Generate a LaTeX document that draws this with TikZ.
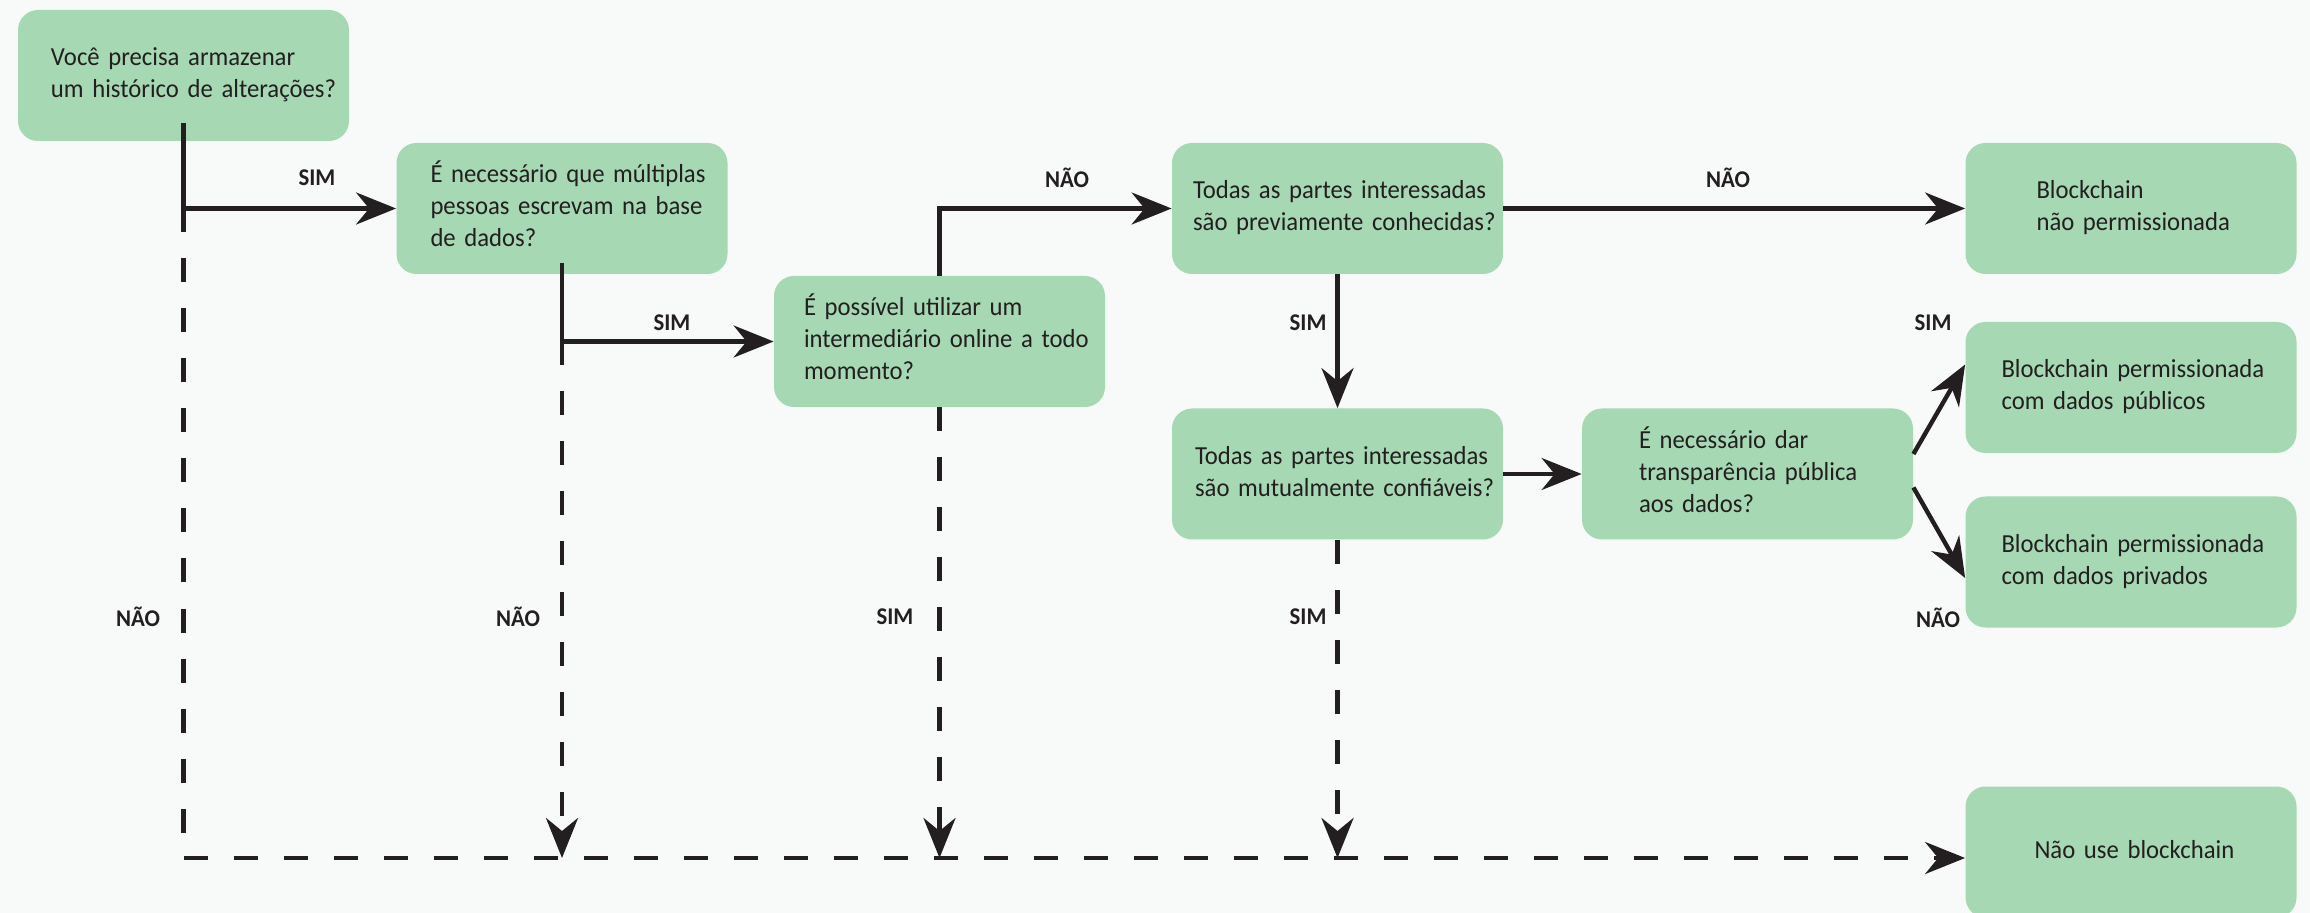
\documentclass[tikz,border=0pt]{standalone}
\usepackage{fontspec}
\setmainfont[FakeStretch=0.95]{Carlito}
\usetikzlibrary{arrows.meta}
\definecolor{boxgreen}{HTML}{A5D8B3}
\definecolor{paper}{HTML}{F8FAF9}
\definecolor{ink}{HTML}{231F20}
\newcommand{\boxtext}[2]{\hspace*{#1}\begin{tabular}{@{}l@{}}#2\end{tabular}}
\tikzset{
  box/.style={fill=boxgreen, rounded corners=10pt, minimum width=165.5pt,
    minimum height=65.5pt, text width=165.5pt, align=left, inner sep=0pt,
    font=\fontsize{13}{16}\selectfont, text=ink},
  lab/.style={font=\fontsize{12}{14}\selectfont\bfseries, text=ink},
  flow/.style={draw=ink, line width=2.2pt, -{Stealth[length=20pt,width=16pt]}},
  dflow/.style={flow, dash pattern=on 12pt off 13pt}
}
\begin{document}
\begin{tikzpicture}[x=0.5pt,y=-0.5pt]
\fill[paper] (0,0) rectangle (2310,913);
\useasboundingbox (0,0) rectangle (2310,913);
% caixas
\node[box] (q1) at (183.5,75.5) {\boxtext{16.5pt}{Você precisa armazenar\\um histórico de alterações?}};
\node[box] (q2) at (562,208.5) {\boxtext{17pt}{É necessário que múltiplas\\pessoas escrevam na base\\de dados?}};
\node[box] (q3) at (939.5,341.5) {\boxtext{15pt}{É possível utilizar um\\intermediário online a todo\\momento?}};
\node[box] (q4) at (1337.5,208.5) {\boxtext{10.5pt}{Todas as partes interessadas\\são previamente conhecidas?}};
\node[box] (q5) at (2131,208.5) {\boxtext{35.5pt}{Blockchain\\não permissionada}};
\node[box] (q6) at (1337.5,474) {\boxtext{11.5pt}{Todas as partes interessadas\\são mutualmente confiáveis?}};
\node[box] (q7) at (1747.5,474) {\boxtext{28.5pt}{É necessário dar\\transparência pública\\aos dados?}};
\node[box] (q8) at (2131,387.5) {\boxtext{18pt}{Blockchain permissionada\\com dados públicos}};
\node[box] (q9) at (2131,562) {\boxtext{18pt}{Blockchain permissionada\\com dados privados}};
\node[box] (q10) at (2131,852) {\boxtext{34.5pt}{Não use blockchain}};
\coordinate (base) at (0,858);
% setas
\draw[flow] ([yshift=9pt]q1.south) |- (q2.west);
\draw[flow] ([yshift=5.5pt]q2.south) |- (q3.west);
\draw[flow] (q3.north) |- (q4.west);
\draw[flow] (q4.east) -- (q5.west);
\draw[flow] (q4.south) -- (q6.north);
\draw[flow] (q6.east) -- (q7.west);
\draw[flow] ([yshift=10pt]q7.east) -- ([yshift=11.5pt]q8.west);
\draw[flow] ([yshift=-6.75pt]q7.east) -- ([yshift=-8pt]q9.west);
% tracejadas
\draw[dflow] (q1.south |- q2.west) |- (q10.west |- base);
\draw[dflow] (q2.south |- q3.west) -- (q2.south |- base);
\draw[dflow] (q3.south) -- (q3.south |- base);
\draw[dflow] (q6.south) -- (q6.south |- base);
% rotulos
\node[lab] (s1) at (317,178) {SIM};
\node[lab] (s2) at (672,323) {SIM};
\node[lab] (n3) at (1067,178) {NÃO};
\node[lab] (n4) at (1728,178) {NÃO};
\node[lab] (s4) at (1308,323) {SIM};
\node[lab] (s7) at (1933,323) {SIM};
\node[lab] (n7) at (1938,618) {NÃO};
\node[lab] (n1) at (138,617) {NÃO};
\node[lab] (n2) at (518,617) {NÃO};
\node[lab] (s3) at (895,617) {SIM};
\node[lab] (s6) at (1308,617) {SIM};
\end{tikzpicture}
\end{document}
